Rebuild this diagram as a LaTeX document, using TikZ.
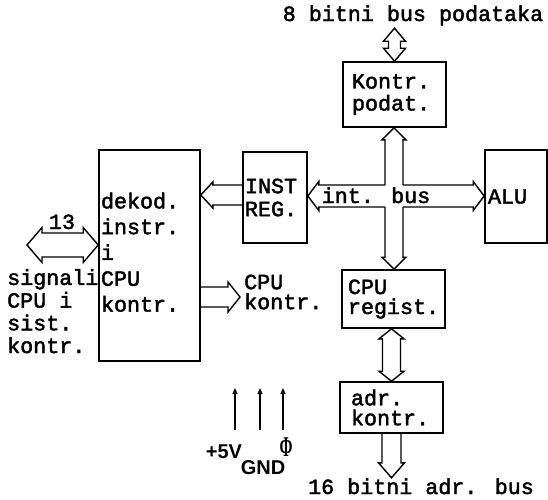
\documentclass[tikz,border=0pt]{standalone}
\usepackage{fontspec}
\usepackage{graphicx}
\setmainfont{Liberation Mono}[FakeBold=2]
\newfontfamily\lblsans{Liberation Sans}
\newfontfamily\lblserif{Liberation Serif}
\usetikzlibrary{arrows.meta,calc}

% block arrow, open tail: tail, tip, half shaft, half head, head length
\newcommand{\busone}[5]{%
  \draw[bus] ($(#1)!#3!90:(#2)$) -- ($(#2)!#5!(#1)!#3!-90:(#1)$)
    -- ($(#2)!#5!(#1)!#4!-90:(#1)$) -- (#2) -- ($(#2)!#5!(#1)!#4!90:(#1)$)
    -- ($(#2)!#5!(#1)!#3!90:(#1)$) -- ($(#1)!#3!-90:(#2)$);}
% block arrow with two heads
\newcommand{\bustwo}[5]{%
  \draw[bus] (#1) -- ($(#1)!#5!(#2)!#4!90:(#2)$) -- ($(#1)!#5!(#2)!#3!90:(#2)$)
    -- ($(#2)!#5!(#1)!#3!-90:(#1)$) -- ($(#2)!#5!(#1)!#4!-90:(#1)$) -- (#2)
    -- ($(#2)!#5!(#1)!#4!90:(#1)$) -- ($(#2)!#5!(#1)!#3!90:(#1)$)
    -- ($(#1)!#5!(#2)!#3!-90:(#2)$) -- ($(#1)!#5!(#2)!#4!-90:(#2)$) -- cycle;}

\begin{document}
\begin{tikzpicture}[x=1pt,y=-1pt,font=\fontsize{21.7}{22}\selectfont,
      box/.style={draw,line width=1.6pt,align=left,inner ysep=2pt},
      lbl/.style={inner sep=0pt},
      bus/.style={line width=1.4pt,line join=miter},
      pwr/.style={line width=1.3pt,-{Triangle[open,length=6pt,width=5pt]}}]
  \useasboundingbox (0,0) rectangle (548,499);
  % blocks
  \node[box,text width=97pt,inner xsep=2pt,minimum height=211pt,text depth=110pt,
        font=\fontsize{21.7}{25.8}\selectfont] (dek) at (149.5,255.5)
        {dekod.\\instr.\\i\\CPU\\kontr.};
  \node[box,text width=60pt,inner xsep=2pt,minimum height=91pt,
        font=\fontsize{21.7}{23}\selectfont] (ir) at (275,197.5) {INST\\REG.};
  \node[box,text width=56pt,inner xsep=3pt,minimum height=93pt] (alu) at (516,196.5) {ALU};
  \node[box,text width=85pt,inner xsep=9pt,minimum height=65pt] (kp) at (394.5,94.5)
        {Kontr.\\podat.};
  \node[box,text width=91pt,inner xsep=6pt,minimum height=58pt,
        font=\fontsize{21.7}{20}\selectfont] (cr) at (393.5,299) {CPU\\regist.};
  \node[box,text width=81pt,inner xsep=11pt,minimum height=51pt,
        font=\fontsize{21.7}{20}\selectfont] (ak) at (391.5,407.5) {adr.\\kontr.};

  % int. bus
  \coordinate (c) at (394,196);
  \coordinate (cu) at ($(c)+(0,-11)$); \coordinate (tu) at (c |- kp.south);
  \coordinate (cd) at ($(c)+(0,11)$);  \coordinate (td) at (c |- cr.north);
  \coordinate (cl) at ($(c)+(-9,0)$);  \coordinate (tl) at (c -| ir.east);
  \coordinate (cri) at ($(c)+(9,0)$);  \coordinate (tr) at (c -| alu.west);
  \busone{cu}{tu}{9pt}{12pt}{12pt}
  \busone{cd}{td}{9pt}{12pt}{12pt}
  \busone{cl}{tl}{11pt}{14.5pt}{11pt}
  \busone{cri}{tr}{11pt}{14.5pt}{11pt}
  \node[lbl,anchor=base] (ib) at (376,203) {int. bus};

  % data bus
  \coordinate (dtop) at ([yshift=33pt]kp.north);
  \bustwo{kp.north}{dtop}{6pt}{11pt}{13pt}
  \node[lbl,anchor=base] (dlbl) at (413,21) {8 bitni bus podataka};

  % address bus
  \coordinate (ra) at (ak.north |- cr.south);
  \bustwo{ra}{ak.north}{9pt}{12.5pt}{10pt}
  \coordinate (ab) at ([yshift=-44pt]ak.south);
  \busone{ak.south}{ab}{9.5pt}{13pt}{15pt}
  \node[lbl,anchor=base] (albl) at (421,494) {16 bitni adr. bus};

  % decoder
  \coordinate (ire) at (ir.west |- 0,195); \coordinate (dke) at (dek.east |- 0,195);
  \busone{ire}{dke}{10pt}{13pt}{12pt}
  \coordinate (ck0) at (dek.east |- 0,297); \coordinate (ck1) at (240,297);
  \busone{ck0}{ck1}{10pt}{15pt}{12pt}
  \node[lbl,anchor=west,align=left,font=\fontsize{21.7}{20}\selectfont] (cklbl)
        at (244,292) {CPU\\kontr.};
  \coordinate (s13) at (27,245); \coordinate (dkw) at (dek.west |- 0,245);
  \bustwo{s13}{dkw}{12pt}{17.5pt}{15pt}
  \node[lbl,anchor=base] (n13) at (62,229) {13};
  \node[lbl,anchor=base west,align=left,font=\fontsize{21.7}{22.7}\selectfont] (sig)
        at (7,353) {signali\\CPU i\\sist.\\kontr.};

  % supply
  \foreach \x/\n in {235/a,260/b,283/c}{
    \coordinate (p\n0) at (\x,430); \coordinate (p\n1) at (\x,388);
    \draw[pwr] (p\n0) -- (p\n1);}
  \node[lbl,anchor=base,font=\lblsans\bfseries\fontsize{20}{20}\selectfont] (v5)
        at (224,458) {+5V};
  \node[lbl,anchor=base,font=\lblsans\bfseries\fontsize{20}{20}\selectfont] (gnd)
        at (263,474) {GND};
  \node[lbl,anchor=base,font=\lblserif\bfseries\fontsize{26}{26}\selectfont] (phi)
        at (286,456) {\scalebox{0.6}[1.1]{Φ}};
\end{tikzpicture}
\end{document}
